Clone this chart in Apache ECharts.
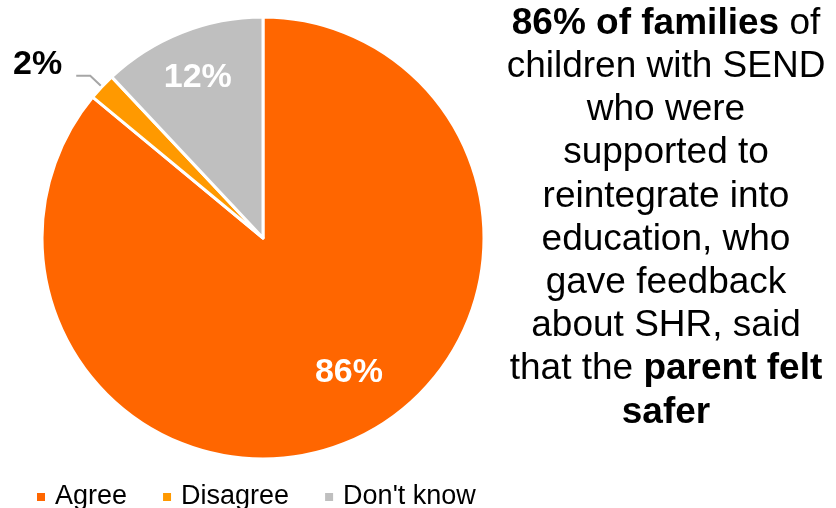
<!DOCTYPE html>
<html>
<head>
<meta charset="utf-8">
<style>
  html, body { margin: 0; padding: 0; background: #ffffff; }
  #chart { width: 836px; height: 508px; }
</style>
<script src="https://cdn.jsdelivr.net/npm/echarts@6/dist/echarts.min.js"></script>
</head>
<body>
<div id="chart"></div>
<script>
// Survey responses: did the parent feel safer?
const categories = ['Agree', 'Disagree', "Don't know"];
const percentages = [86, 2, 12];
const sliceColors = ['#FF6600', '#FF9900', '#BFBFBF'];

const FONT = '"Liberation Sans", Arial, Helvetica, sans-serif';

const pieData = categories.map((name, i) => ({
  name: name,
  value: percentages[i],
  itemStyle: { color: sliceColors[i] }
}));

const chart = echarts.init(document.getElementById('chart'));

chart.setOption({
  backgroundColor: '#ffffff',
  animation: false,
  legend: {
    data: categories,
    left: 30,
    top: 477,
    icon: 'rect',
    itemWidth: 10,
    itemHeight: 10,
    itemGap: 34,
    textStyle: {
      fontFamily: FONT,
      fontSize: 27,
      color: '#000000',
      padding: [0, 0, 0, 4],
      lineHeight: 30
    }
  },
  graphic: [{
    type: 'text',
    x: 666,
    y: 2,
    style: {
      align: 'center',
      verticalAlign: 'top',
      fontFamily: FONT,
      fontSize: 37,
      lineHeight: 43.2,
      fill: '#000000',
      text: [
        '{b|86% of families}{n| of}',
        '{n|children with SEND}',
        '{n|who were}',
        '{n|supported to}',
        '{n|reintegrate into}',
        '{n|education, who}',
        '{n|gave feedback}',
        '{n|about SHR, said}',
        '{n|that the }{b|parent felt}',
        '{b|safer}'
      ].join('\n'),
      rich: {
        b: { fontFamily: FONT, fontSize: 37, fontWeight: 'bold', lineHeight: 43.2, fill: '#000000' },
        n: { fontFamily: FONT, fontSize: 37, fontWeight: 'normal', lineHeight: 43.2, fill: '#000000' }
      }
    }
  }],
  series: [
    {
      // the slices themselves, with the small outside label
      type: 'pie',
      center: [263, 238],
      radius: [0, 221],
      startAngle: 90,
      clockwise: true,
      avoidLabelOverlap: false,
      itemStyle: { borderColor: '#ffffff', borderWidth: 3 },
      emphasis: { disabled: true },
      labelLayout: function (p) {
        return p.dataIndex === 1 ? { dx: -4, dy: -11 } : {};
      },
      data: pieData.map((d, i) => Object.assign({}, d, {
        label: i === 1 ? {
          show: true,
          position: 'outside',
          formatter: '{c}%',
          fontFamily: FONT,
          fontSize: 34,
          fontWeight: 'bold',
          color: '#000000',
          distanceToLabelLine: 10
        } : { show: false },
        labelLine: i === 1 ? {
          show: true,
          length: 16,
          length2: 14,
          lineStyle: { color: '#A6A6A6', width: 2 }
        } : { show: false }
      }))
    },
    {
      // transparent ring used only to place the white percentage labels
      type: 'pie',
      center: [263, 238],
      radius: [0, 332],
      startAngle: 90,
      clockwise: true,
      silent: true,
      avoidLabelOverlap: false,
      itemStyle: { color: 'rgba(0,0,0,0)', borderWidth: 0 },
      emphasis: { disabled: true },
      labelLine: { show: false },
      labelLayout: function (p) {
        return p.dataIndex === 0 ? { dx: 14, dy: -18 } : { dx: -3, dy: -3 };
      },
      data: pieData.map((d, i) => ({
        name: d.name,
        value: d.value,
        itemStyle: { color: 'rgba(0,0,0,0)' },
        label: i === 1 ? { show: false } : {
          show: true,
          position: 'inside',
          formatter: '{c}%',
          fontFamily: FONT,
          fontSize: 34,
          fontWeight: 'bold',
          color: '#ffffff'
        }
      }))
    }
  ]
});
</script>
</body>
</html>
